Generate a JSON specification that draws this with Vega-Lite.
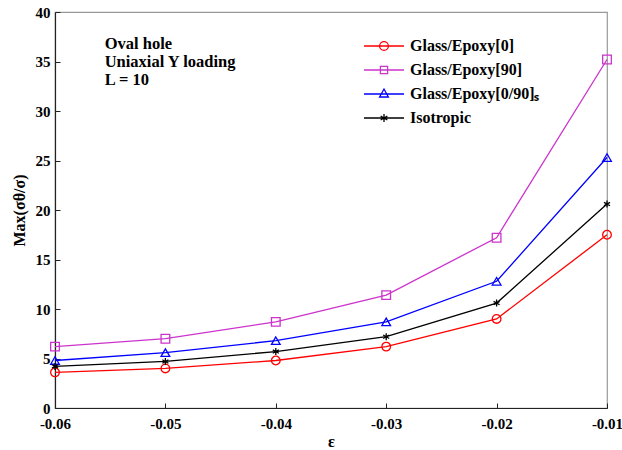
{
  "$schema": "https://vega.github.io/schema/vega-lite/v6.json",
  "width": 552,
  "height": 396,
  "autosize": {"type": "none"},
  "padding": {"left": 55, "top": 12, "right": 15, "bottom": 42},
  "background": "white",
  "config": {
    "font": "Liberation Serif",
    "view": {"stroke": "#999999", "strokeWidth": 1.2},
    "axis": {
      "labelFont": "Liberation Serif",
      "labelFontWeight": "bold",
      "labelFontSize": 15,
      "labelColor": "black",
      "labelFlush": false,
      "titleFont": "Liberation Serif",
      "titleFontWeight": "bold",
      "titleFontSize": 16,
      "titleColor": "black",
      "domainColor": "#222222",
      "domainWidth": 1.2,
      "tickColor": "#222222",
      "tickSize": -5,
      "grid": false
    }
  },
  "data": {
    "values": [
      {"eps": -0.06, "series": "Glass/Epoxy[0]", "v": 3.6},
      {"eps": -0.05, "series": "Glass/Epoxy[0]", "v": 4.0},
      {"eps": -0.04, "series": "Glass/Epoxy[0]", "v": 4.8},
      {"eps": -0.03, "series": "Glass/Epoxy[0]", "v": 6.2},
      {"eps": -0.02, "series": "Glass/Epoxy[0]", "v": 9.0},
      {"eps": -0.01, "series": "Glass/Epoxy[0]", "v": 17.5},
      {"eps": -0.06, "series": "Glass/Epoxy[90]", "v": 6.2},
      {"eps": -0.05, "series": "Glass/Epoxy[90]", "v": 7.0},
      {"eps": -0.04, "series": "Glass/Epoxy[90]", "v": 8.7},
      {"eps": -0.03, "series": "Glass/Epoxy[90]", "v": 11.4},
      {"eps": -0.02, "series": "Glass/Epoxy[90]", "v": 17.2},
      {"eps": -0.01, "series": "Glass/Epoxy[90]", "v": 35.2},
      {"eps": -0.06, "series": "Glass/Epoxy[0/90]ₛ", "v": 4.8},
      {"eps": -0.05, "series": "Glass/Epoxy[0/90]ₛ", "v": 5.6},
      {"eps": -0.04, "series": "Glass/Epoxy[0/90]ₛ", "v": 6.8},
      {"eps": -0.03, "series": "Glass/Epoxy[0/90]ₛ", "v": 8.7},
      {"eps": -0.02, "series": "Glass/Epoxy[0/90]ₛ", "v": 12.8},
      {"eps": -0.01, "series": "Glass/Epoxy[0/90]ₛ", "v": 25.3},
      {"eps": -0.06, "series": "Isotropic", "v": 4.2},
      {"eps": -0.05, "series": "Isotropic", "v": 4.7},
      {"eps": -0.04, "series": "Isotropic", "v": 5.7},
      {"eps": -0.03, "series": "Isotropic", "v": 7.2},
      {"eps": -0.02, "series": "Isotropic", "v": 10.6},
      {"eps": -0.01, "series": "Isotropic", "v": 20.6}
    ]
  },
  "resolve": {"scale": {"color": "independent", "shape": "independent"}, "legend": {"color": "independent", "shape": "independent"}},
  "layer": [
    {
      "mark": {"type": "line", "strokeWidth": 1.3},
      "encoding": {
        "x": {
          "field": "eps", "type": "quantitative",
          "scale": {"domain": [-0.06, -0.01], "nice": false, "zero": false},
          "axis": {"values": [-0.06, -0.05, -0.04, -0.03, -0.02, -0.01], "labelExpr": "'-' + format(abs(datum.value), '.2f')", "title": "ε", "titlePadding": 2, "labelPadding": 13}
        },
        "y": {
          "field": "v", "type": "quantitative",
          "scale": {"domain": [0, 40], "nice": false},
          "axis": {"values": [0, 5, 10, 15, 20, 25, 30, 35, 40], "title": "Max(σθ/σ)", "titlePadding": 8, "labelPadding": 10}
        },
        "color": {
          "field": "series", "type": "nominal",
          "sort": ["Glass/Epoxy[0]", "Glass/Epoxy[90]", "Glass/Epoxy[0/90]ₛ", "Isotropic"],
          "scale": {
            "domain": ["Glass/Epoxy[0]", "Glass/Epoxy[90]", "Glass/Epoxy[0/90]ₛ", "Isotropic"],
            "range": ["#ff0000", "#cc33cc", "#0000ff", "#000000"]
          },
          "legend": {
            "orient": "none",
            "legendX": 308,
            "legendY": 25,
            "title": null,
            "padding": 0,
            "labelFont": "Liberation Serif",
            "labelFontWeight": "bold",
            "labelFontSize": 16,
            "labelColor": "black",
            "symbolSize": 1600,
            "symbolStrokeWidth": 1.3,
            "labelOffset": 5,
            "clipHeight": 18,
            "rowPadding": 6,
            "encode": {
              "symbols": {
                "update": {
                  "shape": {"signal": "datum.value === 'Glass/Epoxy[0]' ? 'M-1,0L1,0M-0.22,0A0.22,0.22,0,1,1,0.22,0A0.22,0.22,0,1,1,-0.22,0Z' : datum.value === 'Glass/Epoxy[90]' ? 'M-1,0L1,0M-0.18,-0.18L0.18,-0.18L0.18,0.18L-0.18,0.18Z' : datum.value === 'Isotropic' ? 'M-1,0L1,0M0,-0.2L0,0.2M-0.17,-0.1L0.17,0.1M-0.17,0.1L0.17,-0.1' : 'M-1,0L1,0M-0.22,0.15L0,-0.25L0.22,0.15Z'"},
                  "fill": {"value": "transparent"}
                }
              }
            }
          }
        }
      }
    },
    {
      "mark": {"type": "point", "filled": false, "strokeWidth": 1.3, "opacity": 1},
      "encoding": {
        "x": {"field": "eps", "type": "quantitative"},
        "y": {"field": "v", "type": "quantitative"},
        "color": {
          "field": "series", "type": "nominal", "legend": null,
          "scale": {
            "domain": ["Glass/Epoxy[0]", "Glass/Epoxy[90]", "Glass/Epoxy[0/90]ₛ", "Isotropic"],
            "range": ["#ff0000", "#cc33cc", "#0000ff", "#000000"]
          }
        },
        "shape": {
          "field": "series", "type": "nominal", "legend": null,
          "scale": {
            "domain": ["Glass/Epoxy[0]", "Glass/Epoxy[90]", "Glass/Epoxy[0/90]ₛ", "Isotropic"],
            "range": ["circle", "square", "triangle-up", "M0,-0.8L0,0.8M-0.7,-0.4L0.7,0.4M-0.7,0.4L0.7,-0.4"]
          }
        },
        "size": {"value": 75}
      }
    },
    {
      "data": {
        "values": [
          {"tx": -0.0555, "ty": 36.8, "t": "Oval hole"},
          {"tx": -0.0555, "ty": 34.9, "t": "Uniaxial Y loading"},
          {"tx": -0.0555, "ty": 33.1, "t": "L = 10"}
        ]
      },
      "mark": {"type": "text", "align": "left", "baseline": "middle", "font": "Liberation Serif", "fontWeight": "bold", "fontSize": 16.5, "color": "black"},
      "encoding": {
        "x": {"field": "tx", "type": "quantitative"},
        "y": {"field": "ty", "type": "quantitative"},
        "text": {"field": "t"}
      }
    }
  ]
}
